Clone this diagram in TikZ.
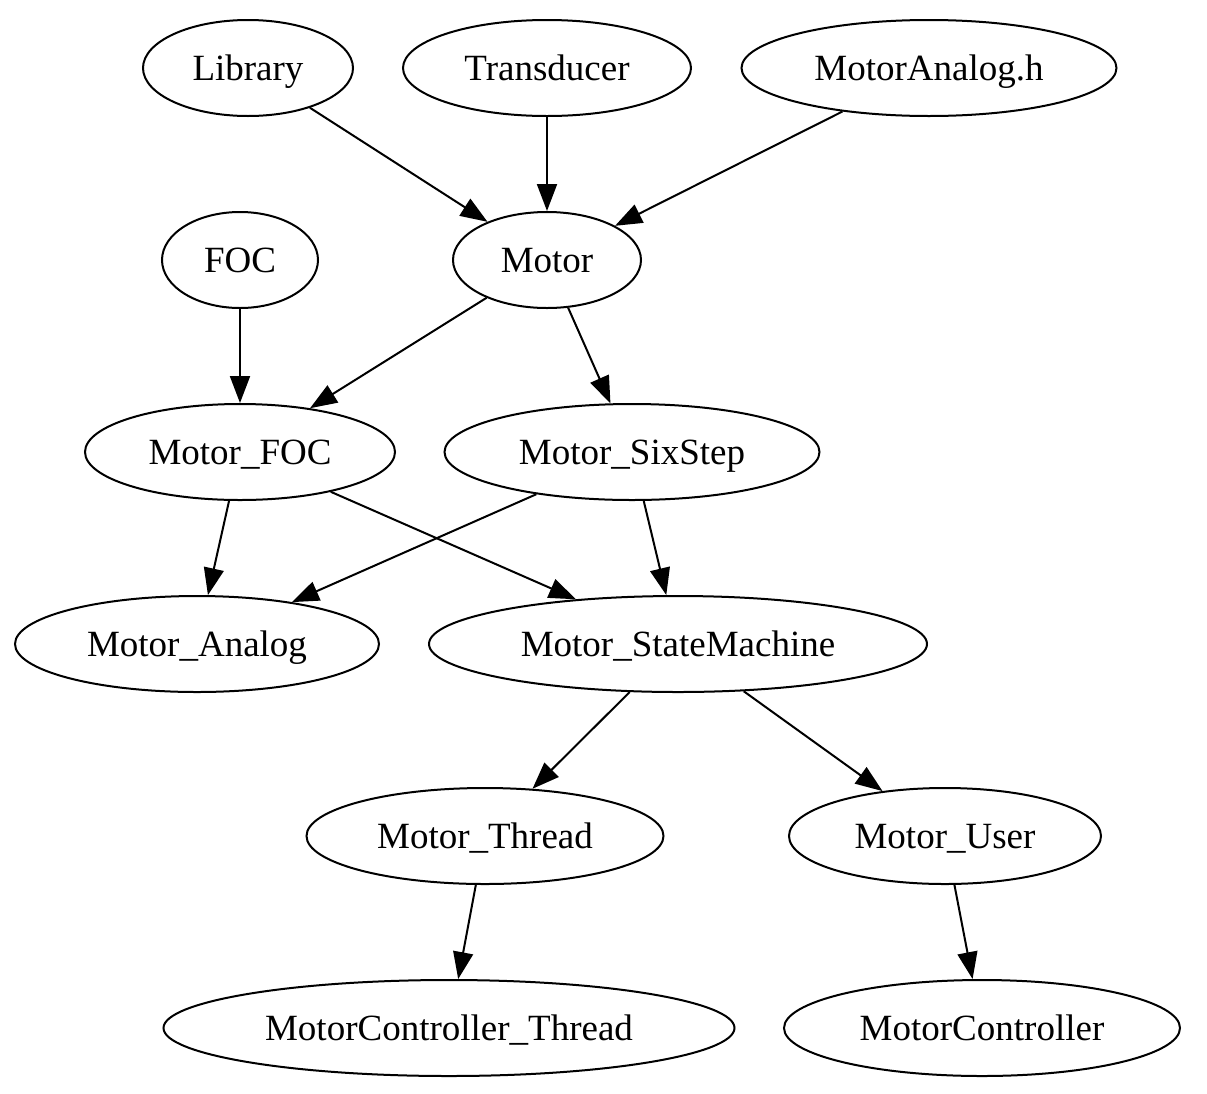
\documentclass[tikz,border=0pt]{standalone}
\usepackage{fontspec}
\setmainfont{Liberation Serif}
\usetikzlibrary{shapes.geometric,arrows.meta}
\begin{document}
\begin{tikzpicture}[x=1pt,y=-1pt,
  nd/.style={ellipse,draw,line width=2pt,inner sep=0pt,minimum height=96pt,text height=30pt,text depth=6pt,font=\fontsize{37}{44}\selectfont},
  ar/.style={line width=2pt,-{Triangle[length=27pt,width=20pt]}}]
\useasboundingbox (0,0) rectangle (1207,1093);
\node[nd,minimum width=210pt] (lib) at (248,68) {Library};
\node[nd,minimum width=288pt] (tra) at (547,68) {Transducer};
\node[nd,minimum width=375pt] (mah) at (929,68) {MotorAnalog.h};
\node[nd,minimum width=156pt] (foc) at (240,260) {FOC};
\node[nd,minimum width=188pt] (mot) at (547,260) {Motor};
\node[nd,minimum width=310pt] (mfoc) at (240,452) {Motor\_FOC};
\node[nd,minimum width=375pt] (msix) at (632,452) {Motor\_SixStep};
\node[nd,minimum width=364pt] (mana) at (197,644) {Motor\_Analog};
\node[nd,minimum width=498pt] (msm) at (678,644) {Motor\_StateMachine};
\node[nd,minimum width=357pt] (mthr) at (485,836) {Motor\_Thread};
\node[nd,minimum width=312pt] (musr) at (945,836) {Motor\_User};
\node[nd,minimum width=571pt] (mct) at (449,1028) {MotorController\_Thread};
\node[nd,minimum width=396pt] (mc) at (982,1028) {MotorController};
\draw[ar] (lib) -- (mot);
\draw[ar] (tra) -- (mot);
\draw[ar] (mah) -- (mot);
\draw[ar] (foc) -- (mfoc);
\draw[ar] (mot) -- (mfoc);
\draw[ar] (mot) -- (msix);
\draw[ar] (mfoc) -- (mana);
\draw[ar] (mfoc) -- (msm);
\draw[ar] (msix) -- (mana);
\draw[ar] (msix) -- (msm);
\draw[ar] (msm) -- (mthr);
\draw[ar] (msm) -- (musr);
\draw[ar] (mthr) -- (mct);
\draw[ar] (musr) -- (mc);
\end{tikzpicture}
\end{document}
